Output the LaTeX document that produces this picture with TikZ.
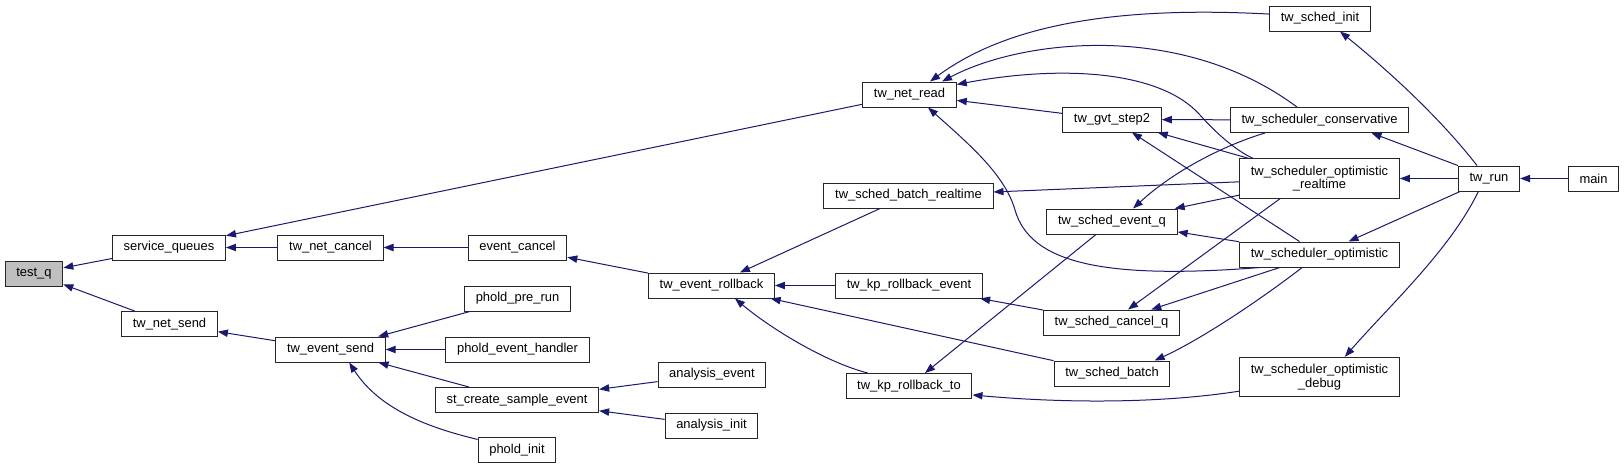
\documentclass[tikz,border=0pt]{standalone}
\usepackage{fontspec}
\setmainfont{Liberation Sans}
\usetikzlibrary{arrows.meta}
\definecolor{navyline}{HTML}{191970}
\definecolor{boxgrey}{HTML}{BFBFBF}
\tikzset{
  fnbox/.style={draw=black!85,line width=0.75pt,fill=white,inner xsep=8.4pt,inner ysep=0pt,
    minimum height=18.75pt,align=center,font=\fontsize{9.7}{10}\selectfont},
  fnboxtwo/.style={fnbox,minimum height=29.5pt},
  calls/.style={draw=navyline,line width=0.75pt,{Triangle[length=7.5pt,width=5.5pt]}-}
}
\newcommand{\FnBox}[4][]{\node[fnbox,#1] (#2) at (#3) {#4};}

\begin{document}
\begin{tikzpicture}[x=0.75pt,y=-0.75pt]
\useasboundingbox (0,0) rectangle (1624,469);

\FnBox[fill=boxgrey]{testq}{34,273.5}{test\_q}
\FnBox{servq}{169,247.5}{service\_queues}
\FnBox{netsend}{169.5,324}{tw\_net\_send}
\FnBox{netcancel}{330.5,247.5}{tw\_net\_cancel}
\FnBox{evsend}{330.5,349.5}{tw\_event\_send}
\FnBox{evcancel}{517.5,247.5}{event\_cancel}
\FnBox{prerun}{517.5,298.5}{phold\_pre\_run}
\FnBox{evhandler}{517.5,349.5}{phold\_event\_handler}
\FnBox{sample}{517,400}{st\_create\_sample\_event}
\FnBox{pinit}{517,450}{phold\_init}
\FnBox{rollback}{711.5,285.5}{tw\_event\_rollback}
\FnBox{anevent}{712,374.5}{analysis\_event}
\FnBox{aninit}{711.5,425.5}{analysis\_init}
\FnBox{netread}{909.5,94.5}{tw\_net\_read}
\FnBox{batchrt}{908.5,195.5}{tw\_sched\_batch\_realtime}
\FnBox{kpevent}{909,285.5}{tw\_kp\_rollback\_event}
\FnBox{kpto}{909,386}{tw\_kp\_rollback\_to}
\FnBox{gvt}{1112,119.5}{tw\_gvt\_step2}
\FnBox{eventq}{1112,221.5}{tw\_sched\_event\_q}
\FnBox{cancelq}{1111.5,322.5}{tw\_sched\_cancel\_q}
\FnBox{batch}{1112,373.5}{tw\_sched\_batch}
\FnBox{schedinit}{1320,18.5}{tw\_sched\_init}
\FnBox{conservative}{1319.5,120}{tw\_scheduler\_conservative}
\FnBox[fnboxtwo]{optrt}{1319.5,178.5}{tw\_scheduler\_optimistic\\\_realtime}
\FnBox{opt}{1319.5,254.5}{tw\_scheduler\_optimistic}
\FnBox[fnboxtwo]{debug}{1319.5,377}{tw\_scheduler\_optimistic\\\_debug}
\FnBox{run}{1489,178.5}{tw\_run}
\FnBox{main}{1593.5,178.5}{main}

\draw[calls] (testq) -- (servq);
\draw[calls] (testq) -- (netsend);
\draw[calls] (servq) -- (netcancel);
\draw[calls] (servq) -- (netread);
\draw[calls] (netcancel) -- (evcancel);
\draw[calls] (netsend) -- (evsend);
\draw[calls] (evsend) -- (prerun);
\draw[calls] (evsend) -- (evhandler);
\draw[calls] (evsend) -- (sample);
\draw[calls] ([xshift=14pt]evsend.south) .. controls (380,410) and (430,428) .. (pinit.165);
\draw[calls] (evcancel) -- (rollback);
\draw[calls] (sample) -- (anevent);
\draw[calls] (sample) -- (aninit);
\draw[calls] (rollback) -- (batchrt);
\draw[calls] (rollback) -- (kpevent);
\draw[calls] (rollback) -- (batch);
\draw[calls] ([xshift=17.6pt]rollback.south) .. controls (770,328) and (825,362) .. ([xshift=-31pt]kpto.north);
\draw[calls] ([xshift=15.4pt]netread.north) .. controls (1000,30) and (1100,5) .. (schedinit.175);
\draw[calls] ([xshift=24.4pt]netread.north) .. controls (1020,40) and (1180,20) .. ([xshift=-16.9pt]conservative.north);
\draw[calls] (netread.12) .. controls (1060,65) and (1160,70) .. (1200,115)
  .. controls (1215,132) and (1235,150) .. ([xshift=-50pt]optrt.north);
\draw[calls] (netread) -- (gvt);
\draw[calls] ([xshift=13.9pt]netread.south) .. controls (970,145) and (1005,175) .. (1015,210)
  .. controls (1030,262) and (1100,280) .. ([xshift=-44.6pt]opt.south);
\draw[calls] (batchrt) -- (optrt);
\draw[calls] (gvt) -- (conservative);
\draw[calls] (gvt) -- (optrt);
\draw[calls] (gvt) -- (opt);
\draw[calls] ([xshift=15.75pt]eventq.north) .. controls (1175,170) and (1225,145) .. ([xshift=-40.9pt]conservative.south);
\draw[calls] (eventq) -- (optrt);
\draw[calls] (eventq) -- (opt);
\draw[calls] ([xshift=12.4pt]cancelq.north) -- ([xshift=-29.6pt]optrt.south);
\draw[calls] (cancelq) -- (opt);
\draw[calls] (kpevent) -- (cancelq);
\draw[calls] (kpto) -- (eventq);
\draw[calls] (kpto.-8) .. controls (1050,402) and (1150,405) .. (debug.190);
\draw[calls] ([xshift=32pt]batch.north) .. controls (1200,340) and (1260,300) .. ([xshift=-13pt]opt.south);
\draw[calls] ([xshift=15pt]schedinit.south) .. controls (1390,72) and (1440,118) .. ([xshift=-9pt]run.north);
\draw[calls] ([xshift=39pt]conservative.south) -- (run.north west);
\draw[calls] (optrt) -- (run);
\draw[calls] (opt) -- (run);
\draw[calls] ([xshift=19pt]debug.north) .. controls (1390,305) and (1450,250) .. ([xshift=-8pt]run.south);
\draw[calls] (run) -- (main);
\end{tikzpicture}
\end{document}
